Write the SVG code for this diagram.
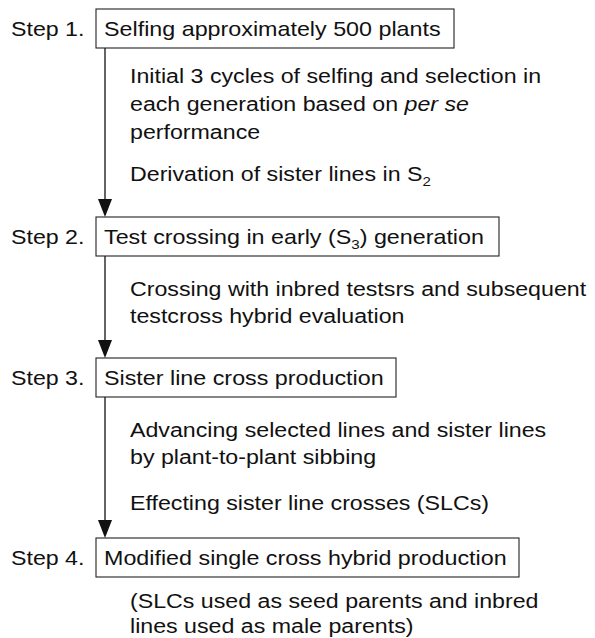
<svg xmlns="http://www.w3.org/2000/svg" width="595" height="638" viewBox="0 0 595 638">
<style>
text{font-family:"Liberation Sans",Arial,Helvetica,sans-serif;font-size:20px;fill:#111;}
.box{fill:#fff;stroke:#222;stroke-width:1.1;}
.conn{stroke:#111;stroke-width:1.3;fill:none;}
.head{fill:#111;stroke:none;}
.sub{font-size:13px;}
</style>
<rect width="595" height="638" fill="#fff"/>
<g id="connectors">
<line class="conn" x1="105" y1="48" x2="105" y2="202"/>
<polygon class="head" points="98,199 112,199 105,217"/>
<line class="conn" x1="105" y1="256" x2="105" y2="343"/>
<polygon class="head" points="98,340 112,340 105,358"/>
<line class="conn" x1="105" y1="397" x2="105" y2="523"/>
<polygon class="head" points="98,520 112,520 105,538"/>
</g>
<g id="step1">
<text transform="translate(11 36) scale(1.16 1)">Step 1.</text>
<rect class="box" x="96" y="9" width="358" height="39"/>
<text transform="translate(104 36) scale(1.165 1)">Selfing approximately 500 plants</text>
</g>
<g id="note1">
<text transform="translate(130 83) scale(1.16 1)">Initial 3 cycles of selfing and selection in</text>
<text transform="translate(130 111) scale(1.16 1)">each generation based on <tspan font-style="italic">per se</tspan></text>
<text transform="translate(130 139) scale(1.16 1)">performance</text>
<text transform="translate(130 181) scale(1.16 1)">Derivation of sister lines in S<tspan class="sub" dy="5">2</tspan></text>
</g>
<g id="step2">
<text transform="translate(11 244) scale(1.16 1)">Step 2.</text>
<rect class="box" x="96" y="217" width="403" height="39"/>
<text transform="translate(104 244) scale(1.165 1)">Test crossing in early (S<tspan class="sub" dy="5">3</tspan><tspan dy="-5">) generation</tspan></text>
</g>
<g id="note2">
<text transform="translate(130 296) scale(1.16 1)">Crossing with inbred testsrs and subsequent</text>
<text transform="translate(130 323) scale(1.16 1)">testcross hybrid evaluation</text>
</g>
<g id="step3">
<text transform="translate(11 385) scale(1.16 1)">Step 3.</text>
<rect class="box" x="96" y="358" width="300" height="39"/>
<text transform="translate(104 385) scale(1.165 1)">Sister line cross production</text>
</g>
<g id="note3">
<text transform="translate(130 437) scale(1.16 1)">Advancing selected lines and sister lines</text>
<text transform="translate(130 464) scale(1.16 1)">by plant-to-plant sibbing</text>
<text transform="translate(130 510) scale(1.16 1)">Effecting sister line crosses (SLCs)</text>
</g>
<g id="step4">
<text transform="translate(11 565) scale(1.16 1)">Step 4.</text>
<rect class="box" x="96" y="538" width="423" height="39"/>
<text transform="translate(104 565) scale(1.165 1)">Modified single cross hybrid production</text>
</g>
<g id="note4">
<text transform="translate(130 608) scale(1.16 1)">(SLCs used as seed parents and inbred</text>
<text transform="translate(130 633) scale(1.16 1)">lines used as male parents)</text>
</g>
</svg>
